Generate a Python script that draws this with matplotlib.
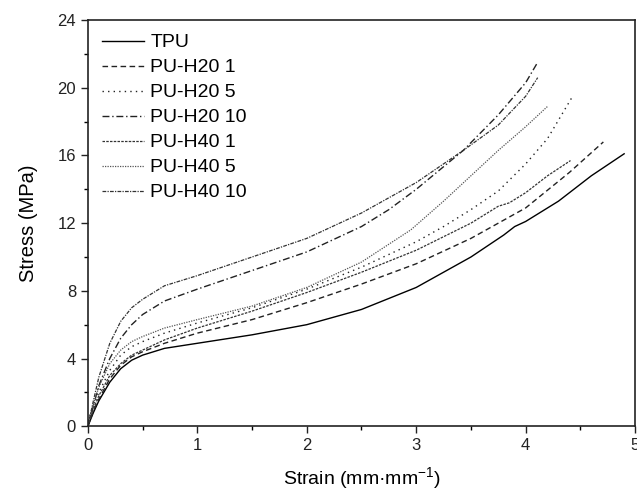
import matplotlib
matplotlib.use('Agg')
import matplotlib.pyplot as plt
from matplotlib.ticker import MultipleLocator

plt.rcParams['font.family'] = ['Liberation Sans', 'DejaVu Sans']
plt.rcParams['mathtext.default'] = 'regular'

# stress-strain curves
tpu_x = [0, 0.05, 0.1, 0.2, 0.3, 0.4, 0.5, 0.7, 1.0, 1.5, 2.0, 2.5, 3.0, 3.5, 3.8, 3.9, 4.0, 4.3, 4.6, 4.9]
tpu_y = [0, 0.8, 1.5, 2.6, 3.4, 3.9, 4.2, 4.6, 4.9, 5.4, 6.0, 6.9, 8.2, 10.0, 11.3, 11.8, 12.1, 13.3, 14.8, 16.1]

h20_1_x = [0, 0.05, 0.1, 0.2, 0.3, 0.4, 0.5, 0.7, 1.0, 1.5, 2.0, 2.5, 3.0, 3.5, 4.0, 4.4, 4.71]
h20_1_y = [0, 0.9, 1.6, 2.8, 3.6, 4.1, 4.4, 4.9, 5.5, 6.3, 7.3, 8.4, 9.6, 11.1, 12.9, 15.0, 16.8]

h20_5_x = [0, 0.05, 0.1, 0.2, 0.3, 0.4, 0.5, 0.7, 1.0, 1.5, 2.0, 2.5, 3.0, 3.25, 3.5, 3.75, 4.0, 4.2, 4.42]
h20_5_y = [0.3, 1.2, 2.0, 3.3, 4.2, 4.7, 5.0, 5.5, 6.1, 7.0, 8.1, 9.4, 10.9, 11.8, 12.8, 13.9, 15.5, 17.0, 19.4]

h20_10_x = [0, 0.05, 0.1, 0.2, 0.3, 0.4, 0.5, 0.7, 1.0, 1.5, 2.0, 2.5, 2.75, 3.0, 3.43, 3.75, 4.0, 4.10]
h20_10_y = [0, 1.2, 2.4, 4.0, 5.2, 6.0, 6.6, 7.4, 8.1, 9.2, 10.3, 11.8, 12.8, 14.0, 16.3, 18.4, 20.3, 21.4]

h40_1_x = [0, 0.05, 0.1, 0.2, 0.3, 0.4, 0.5, 0.7, 1.0, 1.5, 2.0, 2.5, 3.0, 3.5, 3.75, 3.85, 4.0, 4.2, 4.41]
h40_1_y = [0, 1.0, 1.8, 3.0, 3.7, 4.2, 4.5, 5.1, 5.8, 6.8, 7.9, 9.1, 10.4, 12.0, 13.0, 13.2, 13.8, 14.8, 15.7]

h40_5_x = [0, 0.05, 0.1, 0.2, 0.3, 0.4, 0.5, 0.7, 1.0, 1.5, 2.0, 2.5, 2.95, 3.25, 3.5, 3.75, 4.0, 4.2]
h40_5_y = [0.2, 1.3, 2.3, 3.7, 4.5, 5.0, 5.3, 5.8, 6.3, 7.1, 8.2, 9.7, 11.6, 13.3, 14.8, 16.3, 17.7, 18.9]

h40_10_x = [0, 0.05, 0.1, 0.2, 0.3, 0.4, 0.5, 0.7, 1.0, 1.5, 2.0, 2.5, 3.0, 3.43, 3.75, 4.0, 4.11]
h40_10_y = [0, 1.5, 2.9, 4.9, 6.2, 7.0, 7.5, 8.3, 8.9, 10.0, 11.1, 12.6, 14.4, 16.3, 17.8, 19.5, 20.6]

fig = plt.figure(figsize=(6.37, 4.91), dpi=100)
ax = fig.add_axes([0.138, 0.132, 0.859, 0.827])

ax.plot(tpu_x, tpu_y, color='black', lw=1.0, ls='-', label='TPU')
ax.plot(h20_1_x, h20_1_y, color='#222222', lw=1.0, ls=(0, (4, 2.5)), label='PU-H20 1')
ax.plot(h20_5_x, h20_5_y, color='#222222', lw=1.0, ls=(0, (1, 3)), label='PU-H20 5')
ax.plot(h20_10_x, h20_10_y, color='#222222', lw=1.0, ls=(0, (5, 2, 1, 2)), label='PU-H20 10')
ax.plot(h40_1_x, h40_1_y, color='#333333', lw=0.9, ls=(0, (2, 1)), label='PU-H40 1')
ax.plot(h40_5_x, h40_5_y, color='#555555', lw=0.9, ls=(0, (1, 1)), label='PU-H40 5')
ax.plot(h40_10_x, h40_10_y, color='#333333', lw=0.9, ls=(0, (3, 1, 1, 1)), label='PU-H40 10')

ax.set_xlim(0, 5)
ax.set_ylim(0, 24)
ax.xaxis.set_major_locator(MultipleLocator(1))
ax.xaxis.set_minor_locator(MultipleLocator(0.5))
ax.yaxis.set_major_locator(MultipleLocator(4))
ax.yaxis.set_minor_locator(MultipleLocator(2))
ax.tick_params(which='major', direction='out', length=5, width=1, labelsize=12, colors='#222222')
ax.tick_params(which='minor', direction='out', length=3, width=1)
for s in ax.spines.values():
    s.set_linewidth(1.2)
    s.set_color('#222222')

ax.set_xlabel('Strain (mm\u00b7mm$^{-1}$)', fontsize=14, labelpad=9)
ax.set_ylabel('Stress (MPa)', fontsize=14.5, labelpad=14)

ax.legend(loc='upper left', frameon=False, fontsize=14, handlelength=2.2,
          handletextpad=0.3, labelspacing=0.38, borderaxespad=0.3,
          borderpad=0.4)

fig.savefig('out.png', dpi=100)
